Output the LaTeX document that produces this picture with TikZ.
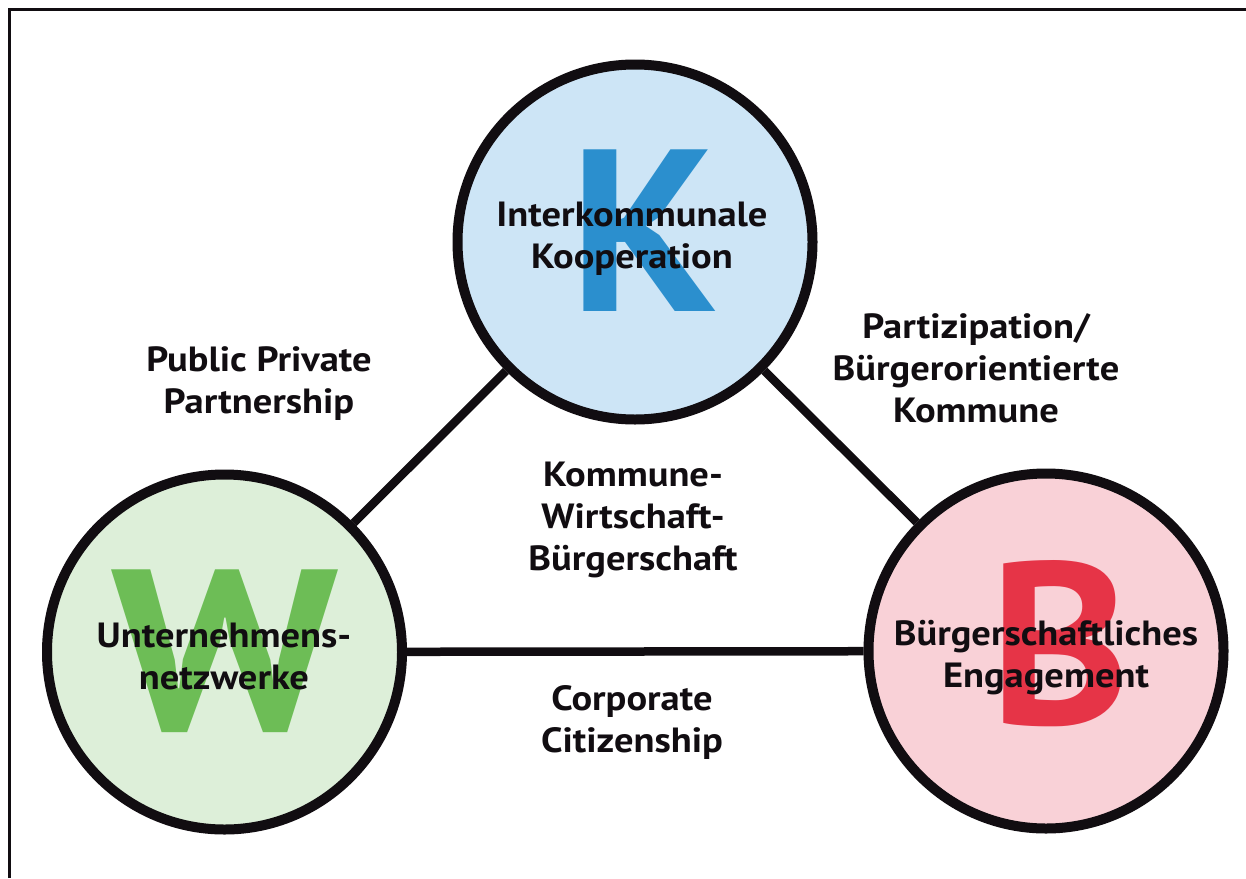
\documentclass[tikz,border=0pt]{standalone}
\usepackage{fontspec}
\setmainfont{PT Sans}
\newfontfamily\lblfont{PT Sans}[FakeStretch=1.1]
\definecolor{kfill}{HTML}{CDE5F6}
\definecolor{kletter}{HTML}{2B8FCE}
\definecolor{wfill}{HTML}{DDEFD9}
\definecolor{wletter}{HTML}{6DBD56}
\definecolor{bfill}{HTML}{F9D1D7}
\definecolor{bletter}{HTML}{E63447}
\definecolor{ink}{HTML}{110D11}
\begin{document}
\begin{tikzpicture}[x=1pt,y=-1pt,
  ring/.style={circle, draw=ink, line width=10pt, minimum size=355pt, inner sep=0pt},
  bigletter/.style={inner sep=0pt, font=\fontsize{231}{231}\selectfont\bfseries},
  txt/.style={inner sep=0pt, align=center, text=ink, font=\lblfont\fontsize{35}{42}\selectfont\bfseries},
  link/.style={draw=ink, line width=8.5pt}]
\useasboundingbox (0,0) rectangle (1246,878);
\fill[white] (0,0) rectangle (1246,878);
\draw[ink, line width=3pt] (9.5,878) -- (9.5,9.5) -- (1246,9.5);
% circles
\node[ring, fill=kfill] (k) at (635,242) {};
\node[ring, fill=wfill] (w) at (224.5,652) {};
\node[ring, fill=bfill] (b) at (1046,651) {};
% connectors
\draw[link] (k) -- (w);
\draw[link] (k) -- (b);
\draw[link] (w) -- (b);
% big letters
\node[bigletter, text=kletter] (kl) at (644,231) {\scalebox{1.04}[1]{K}};
\node[bigletter, text=wletter] (wl) at (225,651) {\scalebox{1.14}[1]{W}};
\node[bigletter, text=bletter] (bl) at (1060,644) {\scalebox{1.03}[1]{B}};
% circle texts
\node[txt] (kt) at (632,239) {Interkommunale\\Kooperation};
\node[txt] (wt) at (224,656) {Unternehmens-\\netzwerke};
\node[txt] (bt) at (1046,658) {Bürgerschaftliches\\Engagement};
% edge texts
\node[txt] (ppp) at (259,384) {Public Private\\Partnership};
\node[txt] (par) at (976,368) {Partizipation/\\Bürgerorientierte\\Kommune};
\node[txt] (kwb) at (633,520) {Kommune-\\Wirtschaft-\\Bürgerschaft};
\node[txt] (cc) at (632,722) {Corporate\\Citizenship};
\end{tikzpicture}
\end{document}
